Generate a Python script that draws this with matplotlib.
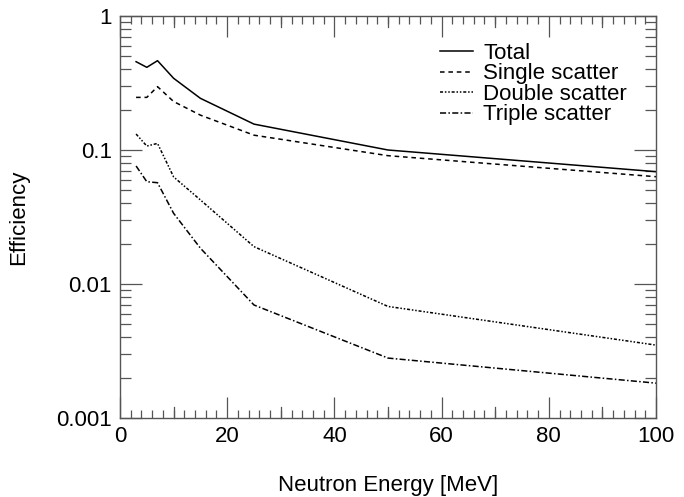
import matplotlib
matplotlib.use("Agg")
import matplotlib.pyplot as plt
import matplotlib.transforms as mtransforms
from matplotlib.ticker import MultipleLocator, LogLocator, NullFormatter, FixedLocator, FixedFormatter

plt.rcParams['font.family'] = ['Liberation Sans', 'DejaVu Sans']

energy = [3, 5, 7, 10, 15, 25, 50, 100]
total = [0.456, 0.414, 0.464, 0.343, 0.243, 0.156, 0.100, 0.0689]
single = [0.247, 0.247, 0.297, 0.230, 0.182, 0.129, 0.0907, 0.0632]
double = [0.1316, 0.107, 0.112, 0.063, 0.0424, 0.019, 0.0068, 0.0035]
triple = [0.076, 0.058, 0.057, 0.0337, 0.0185, 0.00697, 0.0028, 0.00182]
labels = ["Total", "Single scatter", "Double scatter", "Triple scatter"]
yticks = [0.001, 0.01, 0.1, 1]
yticklabels = ["0.001", "0.01", "0.1", "1"]
mid_xticks = [10, 30, 50, 70, 90]

W, H = 684, 497
FS = 16
fig = plt.figure(figsize=(W / 100, H / 100), dpi=100)
ax = fig.add_axes([120 / W, 1 - 418 / H, (656 - 120) / W, (418 - 16) / H])

lw = 1.1
ax.plot(energy, total, color='black', lw=lw, linestyle='-', label=labels[0])
ax.plot(energy, single, color='black', lw=lw, linestyle=(0, (3, 2.5)), label=labels[1])
ax.plot(energy, double, color='black', lw=lw, linestyle=(0, (2, 1.2, 1, 1.2, 1, 1.2)), label=labels[2])
ax.plot(energy, triple, color='black', lw=lw, linestyle=(0, (4, 1.5, 1, 1.5)), label=labels[3])

ax.set_yscale('log')
ax.set_xlim(0, 100)
ax.set_ylim(0.001, 1)

ax.xaxis.set_major_locator(MultipleLocator(20))
ax.xaxis.set_minor_locator(MultipleLocator(2))
ax.yaxis.set_major_locator(FixedLocator(yticks))
ax.yaxis.set_major_formatter(FixedFormatter(yticklabels))
ax.yaxis.set_minor_locator(LogLocator(base=10, subs=[2, 3, 4, 5, 6, 7, 8, 9]))
ax.yaxis.set_minor_formatter(NullFormatter())

# medium-length ticks at odd multiples of 10 on x (bottom and top)
trans = mtransforms.blended_transform_factory(ax.transData, ax.transAxes)
mlen = 11 / (418 - 16)
for xv in mid_xticks:
    ax.plot([xv, xv], [0, mlen], color='#555555', lw=0.9, transform=trans, clip_on=False)
    ax.plot([xv, xv], [1, 1 - mlen], color='#555555', lw=0.9, transform=trans, clip_on=False)

ax.tick_params(which='both', direction='in', top=True, right=True, colors='#555555',
               labelcolor='black', labelsize=FS, width=0.9)
ax.tick_params(axis='x', which='major', length=15, pad=6)
ax.tick_params(axis='x', which='minor', length=6)
ax.tick_params(axis='y', which='major', length=16, pad=6)
ax.tick_params(axis='y', which='minor', length=8)

for s in ax.spines.values():
    s.set_color('#555555')
    s.set_linewidth(1.0)

ax.set_xlabel("Neutron Energy [MeV]", fontsize=FS, labelpad=20)
ax.set_ylabel("Efficiency", fontsize=FS, labelpad=19)

leg = ax.legend(loc='upper left', bbox_to_anchor=(0.568, 0.972), frameon=False,
                fontsize=FS, handlelength=1.5, handletextpad=0.45, labelspacing=-0.02,
                borderpad=0.2)

fig.savefig("out.png", dpi=100)
